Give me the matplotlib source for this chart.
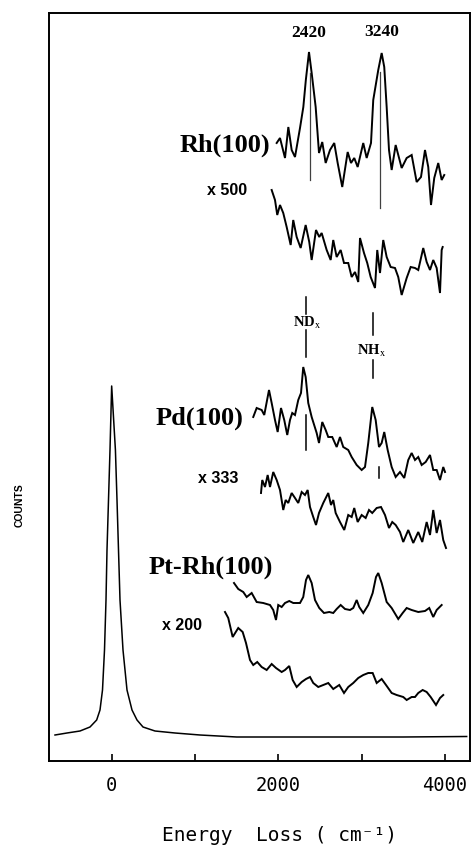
import matplotlib
matplotlib.use("Agg")
import matplotlib.pyplot as plt

plt.rcParams['mathtext.fontset'] = 'stix'

# energy loss (cm-1) / counts (arb. units, offset traces)
el_x = [-680, -536, -380, -260, -180, -140, -110, -86, -68, -56, -38, -20, 0,
        45, 64, 82, 100, 136, 184, 244, 304, 376, 520, 760, 1060, 1500, 2500,
        3500, 4260]
el_y = [26, 28, 30, 34, 41, 51, 71, 111, 161, 211, 261, 311, 375,
        311, 261, 211, 161, 111, 71, 51, 41, 34, 30, 28, 26, 24, 24,
        24, 24.5]

rh_x = [1980, 2020, 2080, 2120, 2160, 2200, 2260, 2300, 2330, 2368,
        2400, 2448, 2488, 2527, 2568, 2620, 2671, 2712, 2767, 2832,
        2872, 2911, 2952, 3019, 3060, 3112, 3139, 3199, 3240, 3271,
        3300, 3328, 3360, 3408, 3480, 3540, 3600, 3660, 3712, 3760,
        3799, 3832, 3871, 3919, 3960, 3991]
rh_y = [618, 623, 603, 634, 611, 604, 633, 654, 681, 709,
        688, 654, 608, 619, 598, 611, 618, 598, 574, 609,
        598, 603, 594, 618, 603, 618, 661, 691, 708, 694,
        654, 611, 591, 616, 593, 603, 606, 579, 584, 611,
        594, 556, 583, 598, 581, 586]

rh500_x = [1920, 1960, 1987, 2020, 2059, 2100, 2148, 2179, 2220, 2268,
           2328, 2371, 2400, 2452, 2491, 2520, 2580, 2628, 2659, 2700,
           2748, 2788, 2839, 2880, 2920, 2959, 2980, 3028, 3067, 3108,
           3160, 3187, 3220, 3259, 3300, 3348, 3400, 3439, 3480, 3540,
           3588, 3640, 3679, 3739, 3780, 3820, 3859, 3900, 3940, 3960, 3972]
rh500_y = [571, 561, 546, 556, 548, 534, 516, 541, 524, 513,
           536, 519, 501, 531, 524, 528, 511, 501, 521, 504,
           511, 498, 498, 484, 489, 479, 523, 508, 498, 484,
           473, 511, 488, 521, 504, 494, 493, 484, 466, 483,
           494, 493, 491, 513, 499, 491, 501, 493, 468, 511, 514]

pd_x = [1699, 1740, 1800, 1831, 1888, 1920, 1960, 1992, 2032, 2071,
        2107, 2140, 2167, 2200, 2239, 2272, 2299, 2328, 2359, 2400,
        2460, 2488, 2527, 2568, 2599, 2647, 2700, 2740, 2779, 2839,
        2880, 2940, 3000, 3040, 3079, 3127, 3168, 3208, 3240, 3271,
        3312, 3360, 3408, 3460, 3511, 3559, 3600, 3640, 3679, 3720,
        3768, 3820, 3859, 3900, 3940, 3979, 4000]
pd_y = [344, 353, 351, 346, 371, 358, 341, 329, 353, 341,
        326, 341, 348, 346, 361, 368, 394, 384, 358, 344,
        328, 318, 339, 331, 324, 324, 314, 324, 314, 311,
        304, 296, 291, 294, 318, 354, 341, 314, 318, 329,
        311, 294, 284, 289, 283, 301, 308, 301, 304, 296,
        299, 306, 291, 291, 281, 294, 289]

pd333_x = [1792, 1807, 1840, 1872, 1900, 1939, 1980, 2020, 2059, 2088,
           2119, 2160, 2200, 2239, 2280, 2320, 2352, 2380, 2419, 2452,
           2488, 2539, 2599, 2632, 2659, 2688, 2740, 2791, 2839, 2880,
           2911, 2952, 3000, 3048, 3088, 3127, 3180, 3232, 3280, 3328,
           3367, 3408, 3460, 3499, 3559, 3619, 3679, 3727, 3780, 3820,
           3859, 3900, 3940, 3979, 4012]
pd333_y = [268, 281, 274, 286, 274, 289, 281, 271, 251, 261,
           258, 268, 263, 258, 269, 266, 271, 254, 244, 236,
           248, 258, 268, 256, 261, 248, 239, 231, 246, 244,
           253, 239, 246, 243, 251, 248, 253, 254, 246, 233,
           239, 236, 229, 219, 231, 218, 229, 219, 239, 226,
           251, 228, 241, 221, 213]

ptrh_x = [1468, 1519, 1579, 1620, 1680, 1740, 1819, 1900, 1939, 1972,
          1999, 2040, 2080, 2131, 2179, 2260, 2299, 2332, 2359, 2400,
          2440, 2491, 2548, 2611, 2659, 2700, 2748, 2800, 2860, 2899,
          2940, 2971, 3019, 3079, 3132, 3172, 3199, 3240, 3300, 3360,
          3439, 3492, 3540, 3600, 3679, 3760, 3811, 3859, 3900, 3960]
ptrh_y = [178, 172, 169, 164, 168, 159, 158, 156, 151, 141,
          156, 154, 158, 160, 158, 158, 164, 181, 186, 178,
          161, 153, 148, 149, 148, 152, 156, 152, 151, 153,
          161, 154, 148, 156, 168, 184, 188, 178, 159, 153,
          142, 148, 153, 151, 149, 150, 153, 144, 151, 156]

ptrh200_x = [1360, 1399, 1452, 1519, 1572, 1612, 1660, 1699, 1747, 1800,
             1860, 1920, 1972, 2040, 2080, 2131, 2172, 2220, 2280, 2332,
             2380, 2419, 2479, 2539, 2599, 2659, 2731, 2788, 2839, 2899,
             2959, 3019, 3079, 3132, 3180, 3240, 3292, 3360, 3420, 3499,
             3540, 3600, 3640, 3679, 3732, 3780, 3828, 3892, 3940, 3979]
ptrh200_y = [149, 143, 124, 133, 129, 118, 101, 96, 99, 94,
             91, 97, 93, 89, 91, 95, 81, 74, 79, 82,
             84, 78, 74, 76, 78, 72, 76, 68, 74, 78,
             83, 86, 88, 88, 78, 82, 76, 68, 66, 64,
             61, 64, 64, 68, 71, 69, 64, 56, 63, 66]

# peak marker lines: (position, from, to)
rh_marks = [(2380, 581, 688), (3220, 553, 689)]
nd_marks = [(2332, 447, 464), (2332, 404, 431), (2332, 311, 346)]
nh_marks = [(3130, 426, 448), (3130, 383, 401), (3208, 283, 294)]

fig = plt.figure(figsize=(4.72, 8.46), dpi=100)
ax = fig.add_axes([49 / 472, 1 - 761 / 846, 421 / 472, 748 / 846])

for x, y in [(rh_x, rh_y), (rh500_x, rh500_y), (pd_x, pd_y),
             (pd333_x, pd333_y), (ptrh_x, ptrh_y), (ptrh200_x, ptrh200_y)]:
    ax.plot(x, y, color="k", lw=1.4, solid_joinstyle="miter")
ax.plot(el_x, el_y, color="k", lw=1.1)

for pos, y0, y1 in rh_marks:
    ax.plot([pos, pos], [y0, y1], color="0.25", lw=0.9)
for pos, y0, y1 in nd_marks + nh_marks:
    ax.plot([pos, pos], [y0, y1], color="k", lw=1.1)

serif = dict(family="Liberation Serif", fontweight="bold")
sans = dict(family="Liberation Sans", fontweight="bold")
ax.text(2368, 728, "2420", ha="center", va="center", fontsize=12.5, **serif)
ax.text(3244, 729, "3240", ha="center", va="center", fontsize=12.5, **serif)
ax.text(1900, 616, "Rh(100)", ha="right", va="center", fontsize=19, **serif)
ax.text(1144, 571, "x 500", ha="left", va="center", fontsize=11.5, **sans)
ax.text(1580, 343, "Pd(100)", ha="right", va="center", fontsize=19, **serif)
ax.text(1036, 283, "x 333", ha="left", va="center", fontsize=11.5, **sans)
ax.text(1936, 194, "Pt-Rh(100)", ha="right", va="center", fontsize=19, **serif)
ax.text(610, 136, "x 200", ha="left", va="center", fontsize=11.5, **sans)
ax.text(2345, 438, r"ND$_{\mathrm{x}}$", ha="center", va="center",
        fontsize=10.5, **serif)
ax.text(3120, 410, r"NH$_{\mathrm{x}}$", ha="center", va="center",
        fontsize=10.5, **serif)

ax.set_xlim(-752, 4300)
ax.set_ylim(0, 748)
ax.set_xticks([0, 2000, 4000])
ax.set_xticks([1000, 3000], minor=True)
ax.set_yticks([])
ax.tick_params(axis="x", which="both", direction="in", length=5, width=1.2,
               labelsize=13.5, pad=11)
for lab in ax.get_xticklabels():
    lab.set_family("DejaVu Sans Mono")
for sp in ax.spines.values():
    sp.set_linewidth(1.4)

fig.text(20 / 472, 1 - 505 / 846, "COUNTS", rotation=90, ha="center",
         va="center", fontsize=7.5, **sans)
fig.text(279 / 472, 1 - 835 / 846, "Energy  Loss ( cm\u207b\u00b9)",
         ha="center", va="center", fontsize=14,
         family=["DejaVu Sans Mono", "DejaVu Sans"])

fig.savefig("out.png", dpi=100)
